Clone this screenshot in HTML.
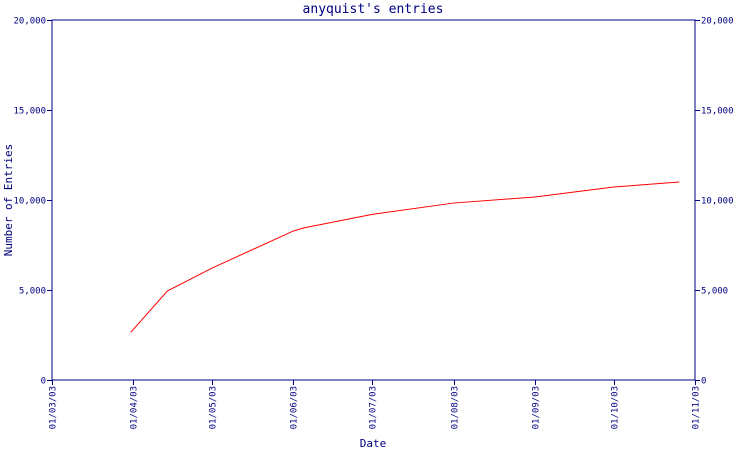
<!DOCTYPE html>
<html><head><meta charset="utf-8"><style>
body{margin:0;background:#fff}
svg{display:block;font-family:"DejaVu Sans Mono","Liberation Mono",monospace}
</style></head><body>
<svg id="c" width="750" height="450">
<text x="373" y="13" text-anchor="middle" font-size="13" fill="#000080">anyquist's entries</text>
<text x="12" y="200" text-anchor="middle" font-size="11" fill="#000080" transform="rotate(-90 12 200)">Number of Entries</text>
<text x="373" y="447" text-anchor="middle" font-size="11" fill="#000080">Date</text>
<rect x="52" y="20" width="643" height="360" fill="none" stroke="#000080" stroke-width="1"/>
<g id="ax"></g>
<polyline id="ln" fill="none" stroke="#ff0000" stroke-width="1"/>
</svg>
<script>
const xTickLabels=["01/03/03","01/04/03","01/05/03","01/06/03","01/07/03","01/08/03","01/09/03","01/10/03","01/11/03"];
const xTickDays=[0,31,61,92,122,153,184,214,245];
const yTicks=[0,5000,10000,15000,20000];
const yTickLabels=["0","5,000","10,000","15,000","20,000"];
const pointDays=[30,44,61,92,96,122,153,184,214,239];
const pointValues=[2650,4950,6220,8280,8450,9200,9830,10170,10720,11000];
const X0=52,X1=695,Y0=380,Y1=20,DMAX=245,VMAX=20000;
const xs=d=>X0+(X1-X0)*d/DMAX, ys=v=>Y0-(Y0-Y1)*v/VMAX;
const NS="http://www.w3.org/2000/svg",ax=document.getElementById('ax');
function mk(t,a){const e=document.createElementNS(NS,t);for(const k in a)e.setAttribute(k,a[k]);ax.appendChild(e);return e;}
xTickDays.forEach((d,i)=>{const x=Math.round(xs(d))+0.5;
 const l=mk('line',{x1:x,x2:x,y1:380,y2:385,stroke:'#000080'});
 
 
 const t=mk('text',{x:0,y:0,'font-size':9,fill:'#000080','text-anchor':'end',transform:`translate(${x+3},386) rotate(-90)`});
 t.textContent=xTickLabels[i];
 
 
});
yTicks.forEach((v,i)=>{const y=Math.round(ys(v))+0.5;
 const l=mk('line',{x1:47,x2:52,y1:y,y2:y,stroke:'#000080'});
 
 
 const r=mk('line',{x1:695,x2:700,y1:y,y2:y,stroke:'#000080'});
 
 
 const t=mk('text',{x:46,y:y+3,'font-size':9,fill:'#000080','text-anchor':'end'});
 t.textContent=yTickLabels[i];
 
 
 const t2=mk('text',{x:701,y:y+3,'font-size':9,fill:'#000080'});
 t2.textContent=yTickLabels[i];
 
 
});
document.getElementById('ln').setAttribute('points',pointDays.map((d,i)=>xs(d)+','+ys(pointValues[i])).join(' '));
</script>
</body></html>
